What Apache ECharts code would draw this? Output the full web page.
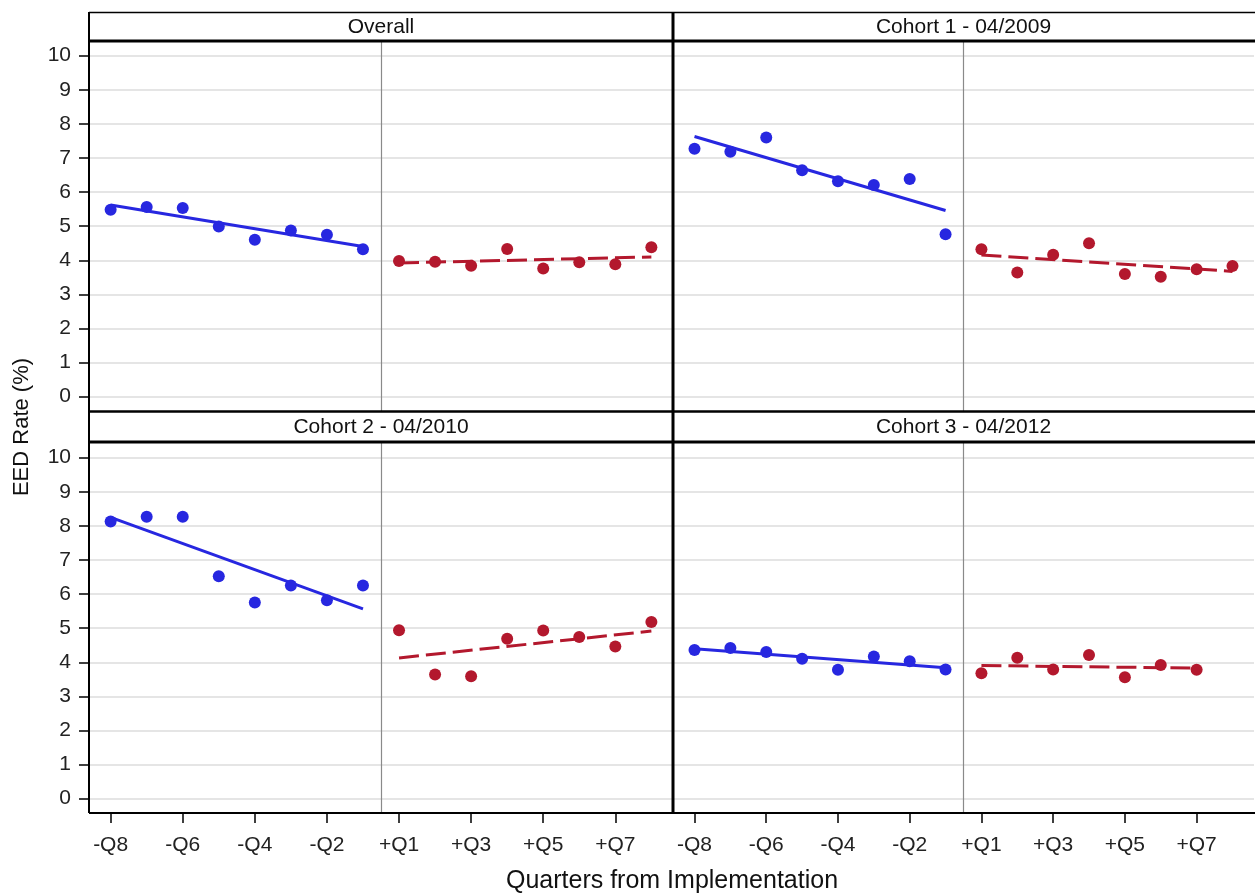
<!DOCTYPE html>
<html><head><meta charset="utf-8">
<script src="https://cdn.jsdelivr.net/npm/echarts@6/dist/echarts.min.js"></script>
<style>html,body{margin:0;padding:0;background:#fff}#c{width:1255px;height:895px}</style>
</head><body><div id="c"></div>
<script>
const categories = ['-Q8','-Q7','-Q6','-Q5','-Q4','-Q3','-Q2','-Q1','+Q1','+Q2','+Q3','+Q4','+Q5','+Q6','+Q7','+Q8'];
const xTickLabels = ['-Q8','-Q6','-Q4','-Q2','+Q1','+Q3','+Q5','+Q7'];
const yTickValues = [0,1,2,3,4,5,6,7,8,9,10];
const panelTitles = ['Overall','Cohort 1 - 04/2009','Cohort 2 - 04/2010','Cohort 3 - 04/2012'];
const overallPre  = [5.48,5.56,5.53,4.99,4.60,4.87,4.75,4.32];
const overallPost = [3.98,3.96,3.84,4.33,3.76,3.94,3.88,4.38];
const cohort1Pre  = [7.27,7.18,7.60,6.64,6.32,6.21,6.38,4.76];
const cohort1Post = [4.32,3.64,4.16,4.50,3.60,3.52,3.74,3.83];
const cohort2Pre  = [8.13,8.27,8.27,6.52,5.75,6.25,5.82,6.25];
const cohort2Post = [4.94,3.64,3.59,4.69,4.93,4.74,4.46,5.18];
const cohort3Pre  = [4.36,4.42,4.30,4.10,3.78,4.17,4.03,3.79];
const cohort3Post = [3.68,4.13,3.79,4.21,3.56,3.92,3.78];

const preSets = [overallPre, cohort1Pre, cohort2Pre, cohort3Pre];
const postSets = [overallPost, cohort1Post, cohort2Post, cohort3Post];
const postStart = categories.indexOf('+Q1');
const dividerX = postStart - 0.5;

const BLUE = '#2727e0', RED = '#b3182d';
const FONT = '"Liberation Sans", Arial, sans-serif';

function pts(vals, start){ return vals.map((v,i)=>[start+i, v]); }
function fit(vals, start){
  const n = vals.length;
  const xs = vals.map((_,i)=>start+i);
  const mx = xs.reduce((a,b)=>a+b,0)/n, my = vals.reduce((a,b)=>a+b,0)/n;
  let sxy=0, sxx=0;
  for(let i=0;i<n;i++){ sxy+=(xs[i]-mx)*(vals[i]-my); sxx+=(xs[i]-mx)*(xs[i]-mx); }
  const b = sxy/sxx, a = my - b*mx;
  return [[xs[0], a+b*xs[0]], [xs[n-1], a+b*xs[n-1]]];
}

const L = 89, M = 673, R = 1254;
const grids = [
  {left:L, top:41, width:M-L, height:370},
  {left:M, top:41, width:R-M, height:370},
  {left:L, top:443, width:M-L, height:370},
  {left:M, top:443, width:R-M, height:370}
];
const xTickIdx = xTickLabels.map(l=>categories.indexOf(l));

const xAxes = grids.map((g,i)=>({
  gridIndex:i, type:'value', min:-0.6, max:15.6,
  axisLine:{show:false, onZero:false},
  axisTick:{show:i>=2, customValues:xTickIdx, length:10, lineStyle:{color:'#000', width:1.5}},
  axisLabel:{show:i>=2, customValues:xTickIdx, formatter:v=>categories[Math.round(v)], fontSize:21, fontFamily:FONT, color:'#222', margin:22},
  splitLine:{show:false}
}));
const yAxes = grids.map((g,i)=>({
  gridIndex:i, type:'value', min:-0.42, max:10.43,
  axisLine:{show:false, onZero:false},
  axisTick:{show:i%2===0, customValues:yTickValues, length:10, lineStyle:{color:'#000', width:1.5}},
  axisLabel:{show:i%2===0, customValues:yTickValues, fontSize:21, fontFamily:FONT, color:'#222', margin:18},
  splitLine:{show:true, customValues:yTickValues, lineStyle:{color:'#dcdcdc', width:1.5}}
}));

const series = [];
for(let p=0;p<4;p++){
  series.push({type:'line', xAxisIndex:p, yAxisIndex:p, data:fit(preSets[p],0), showSymbol:false, symbol:'none', lineStyle:{color:BLUE, width:3}, z:3, silent:true,
    markLine:{silent:true, symbol:'none', label:{show:false}, lineStyle:{color:'#8a8a8a', width:1.2, type:'solid'}, data:[{xAxis:dividerX}]}});
  series.push({type:'line', xAxisIndex:p, yAxisIndex:p, data:fit(postSets[p],postStart), showSymbol:false, symbol:'none', lineStyle:{color:RED, width:3, type:[20,7]}, z:3, silent:true});
  series.push({type:'scatter', xAxisIndex:p, yAxisIndex:p, data:pts(preSets[p],0), symbolSize:12, itemStyle:{color:BLUE, opacity:1}, z:4});
  series.push({type:'scatter', xAxisIndex:p, yAxisIndex:p, data:pts(postSets[p],postStart), symbolSize:12, itemStyle:{color:RED, opacity:1}, z:4});
}

function hline(y, x1, x2, w){ return {type:'line', shape:{x1:x1, y1:y, x2:x2, y2:y}, style:{stroke:'#000', lineWidth:w}, z:100}; }
function vline(x, y1, y2, w){ return {type:'line', shape:{x1:x, y1:y1, x2:x, y2:y2}, style:{stroke:'#000', lineWidth:w}, z:100}; }
function title(t, cx, cy){ return {type:'text', x:cx, y:cy, style:{text:t, fill:'#111', font:'21px '+FONT, textAlign:'center', textVerticalAlign:'middle'}, z:100}; }

const graphic = [
  hline(12.5, L, 1255, 1.5),
  hline(41, L, 1255, 3),
  hline(411.5, L, 1255, 2.5),
  hline(442, L, 1255, 3),
  hline(813, L, 1255, 2),
  vline(L, 12, 813, 2),
  vline(M, 12, 813, 3),
  title(panelTitles[0], (L+M)/2, 27),
  title(panelTitles[1], (M+R)/2, 27),
  title(panelTitles[2], (L+M)/2, 427),
  title(panelTitles[3], (M+R)/2, 427),
  {type:'text', x:672, y:881, style:{text:'Quarters from Implementation', fill:'#111', font:'25px '+FONT, textAlign:'center', textVerticalAlign:'middle'}},
  {type:'text', x:22, y:427, rotation:Math.PI/2, style:{text:'EED Rate (%)', fill:'#111', font:'22px '+FONT, textAlign:'center', textVerticalAlign:'middle'}}
];

const chart = echarts.init(document.getElementById('c'));
chart.setOption({
  animation:false,
  backgroundColor:'#fff',
  grid:grids,
  xAxis:xAxes,
  yAxis:yAxes,
  series:series,
  graphic:graphic
});
</script></body></html>
